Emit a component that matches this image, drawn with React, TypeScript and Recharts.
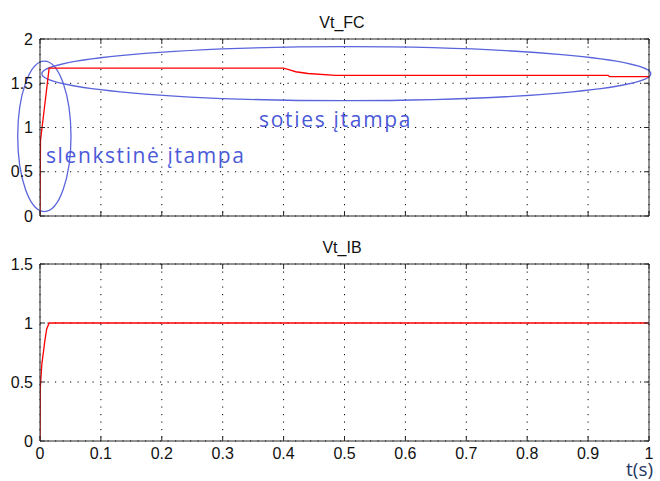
import { LineChart, Line, XAxis, YAxis, CartesianGrid, ReferenceArea } from "recharts";

// time axis (s)
const timeTicks = [0, 0.1, 0.2, 0.3, 0.4, 0.5, 0.6, 0.7, 0.8, 0.9, 1];

// Vt_FC subplot
const fcTime = [0, 0.0008, 0.015, 0.4, 0.41, 0.42, 0.44, 0.485, 0.933, 0.935, 1];
const fcVolt = [0, 0.85, 1.67, 1.67, 1.65, 1.63, 1.61, 1.59, 1.59, 1.575, 1.575];
const fcTicks = [0, 0.5, 1, 1.5, 2];

// Vt_IB subplot
const ibTime = [0, 0.0005, 0.003, 0.008, 0.011, 0.015, 1];
const ibVolt = [0, 0.45, 0.65, 0.85, 0.95, 1, 1];
const ibTicks = [0, 0.5, 1, 1.5];

// annotation ellipses: [t1, t2, v1, v2]
const thresholdZone = [-0.0366, 0.0509, 0.05, 1.75];
const saturationZone = [0.003, 1.003, 1.303, 1.913];

const fcData = fcTime.map((t, i) => ({ t, v: fcVolt[i] }));
const ibData = ibTime.map((t, i) => ({ t, v: ibVolt[i] }));

const AXIS = "#262626";
const RED = "#ff0000";
const BLUE = "#5a64dc";
const tickFont = { fill: "#111", fontSize: 16, fontFamily: "Liberation Sans, Arial, sans-serif" };

const NoLabel = () => <g />;

const Ellipse = (props: any) => {
  const { x, y, width, height } = props;
  return (
    <ellipse
      cx={x + width / 2}
      cy={y + height / 2}
      rx={Math.abs(width) / 2}
      ry={Math.abs(height) / 2}
      fill="none"
      stroke={BLUE}
      strokeWidth={1.3}
    />
  );
};

// box axes with inward ticks on all four sides
function frame(yTicks: number[], yMax: number, showX: boolean) {
  return [
    <XAxis key="x" xAxisId="x" dataKey="t" type="number" domain={[0, 1]} ticks={timeTicks}
      allowDataOverflow orientation="bottom" mirror tick={NoLabel} tickSize={5} stroke={AXIS} />,
    <XAxis key="xt" xAxisId="xt" dataKey="t" type="number" domain={[0, 1]} ticks={timeTicks}
      allowDataOverflow orientation="top" mirror tick={NoLabel} tickSize={5} stroke={AXIS} />,
    showX ? (
      <XAxis key="xl" xAxisId="xl" dataKey="t" type="number" domain={[0, 1]} ticks={timeTicks}
        allowDataOverflow orientation="bottom" height={25} tickSize={0} tickMargin={7}
        axisLine={false} tickLine={false} tick={tickFont} interval={0} />
    ) : null,
    <YAxis key="y" yAxisId="y" dataKey="v" type="number" domain={[0, yMax]} ticks={yTicks}
      allowDataOverflow orientation="left" mirror tick={NoLabel} tickSize={5} stroke={AXIS} />,
    <YAxis key="yr" yAxisId="yr" dataKey="v" type="number" domain={[0, yMax]} ticks={yTicks}
      allowDataOverflow orientation="right" mirror tick={NoLabel} tickSize={5} stroke={AXIS} />,
    <YAxis key="yl" yAxisId="yl" dataKey="v" type="number" domain={[0, yMax]} ticks={yTicks}
      allowDataOverflow orientation="left" width={40} tickSize={0} tickMargin={7}
      axisLine={false} tickLine={false} tick={tickFont} interval={0} />,
  ];
}

export default function App() {
  return (
    <div style={{ position: "relative", width: 660, height: 481, background: "#fff" }}>
      <style>{"body{margin:0}"}</style>
      <div style={{ position: "absolute", left: 0, top: 0 }}>
        <LineChart width={660} height={230} data={fcData}
          margin={{ top: 39, right: 11, bottom: 14, left: 0 }}>
          <CartesianGrid xAxisId="x" yAxisId="y" stroke="#000" strokeDasharray="1.2 6.3" />
          {frame(fcTicks, 2, false)}
          <Line xAxisId="x" yAxisId="y" type="linear" dataKey="v" stroke={RED}
            strokeWidth={1.3} dot={false} isAnimationActive={false} />
          <ReferenceArea xAxisId="x" yAxisId="y" x1={thresholdZone[0]} x2={thresholdZone[1]}
            y1={thresholdZone[2]} y2={thresholdZone[3]} ifOverflow="visible" shape={Ellipse} />
          <ReferenceArea xAxisId="x" yAxisId="y" x1={saturationZone[0]} x2={saturationZone[1]}
            y1={saturationZone[2]} y2={saturationZone[3]} ifOverflow="visible" shape={Ellipse} />
        </LineChart>
      </div>
      <div style={{ position: "absolute", left: 0, top: 230 }}>
        <LineChart width={660} height={251} data={ibData}
          margin={{ top: 34, right: 11, bottom: 15, left: 0 }}>
          <CartesianGrid xAxisId="x" yAxisId="y" stroke="#000" strokeDasharray="1.2 6.3" />
          {frame(ibTicks, 1.5, true)}
          <Line xAxisId="x" yAxisId="y" type="linear" dataKey="v" stroke={RED}
            strokeWidth={1.3} dot={false} isAnimationActive={false} />
        </LineChart>
      </div>
      <svg width={660} height={481}
        style={{ position: "absolute", left: 0, top: 0, pointerEvents: "none" }}>
        <g fontFamily="Liberation Sans, Arial, sans-serif" fontSize={16} fill="#111" textAnchor="middle">
          <text x={342} y={28}>Vt_FC</text>
          <text x={342} y={253}>Vt_IB</text>
        </g>
        <g fontFamily="Open Sans, sans-serif" fontSize={21} fill="#4b5ad8">
          <text x={46} y={163} letterSpacing={1.6}>slenkstinė įtampa</text>
          <text x={259} y={127} letterSpacing={1.7}>soties įtampa</text>
        </g>
        <text x={626} y={476} fontFamily="Open Sans, sans-serif" fontSize={19} fill="#1f3864">t(s)</text>
      </svg>
    </div>
  );
}
